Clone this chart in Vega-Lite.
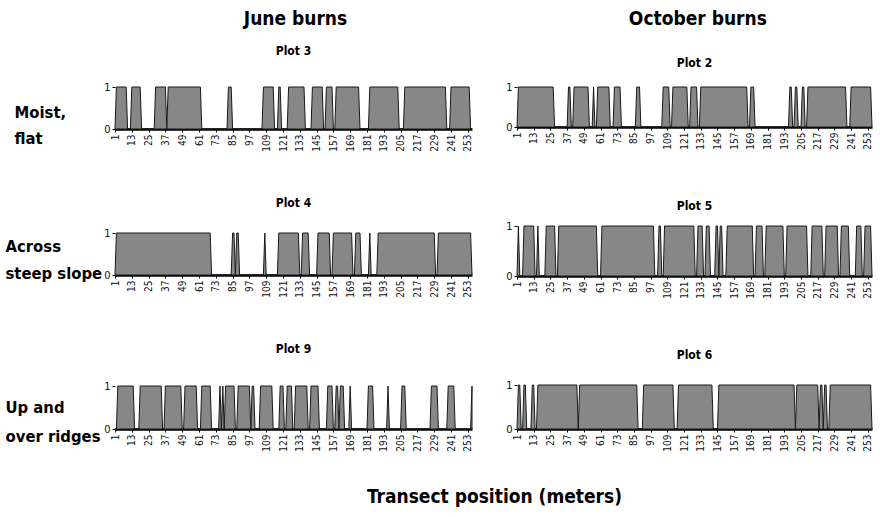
{
"$schema": "https://vega.github.io/schema/vega-lite/v6.json",
"padding": {"left": 5, "top": 10, "right": 5, "bottom": 5},
"background": "white",
"data": {"values": [
{"p":"Plot 3","x":1,"y":0},{"p":"Plot 3","x":2,"y":1},{"p":"Plot 3","x":9,"y":1},{"p":"Plot 3","x":10,"y":0},
{"p":"Plot 3","x":12,"y":0},{"p":"Plot 3","x":13,"y":1},{"p":"Plot 3","x":19,"y":1},{"p":"Plot 3","x":20,"y":0},
{"p":"Plot 3","x":29,"y":0},{"p":"Plot 3","x":30,"y":1},{"p":"Plot 3","x":37,"y":1},{"p":"Plot 3","x":38,"y":0},
{"p":"Plot 3","x":38,"y":0},{"p":"Plot 3","x":39,"y":1},{"p":"Plot 3","x":62,"y":1},{"p":"Plot 3","x":63,"y":0},
{"p":"Plot 3","x":81,"y":0},{"p":"Plot 3","x":82,"y":1},{"p":"Plot 3","x":84,"y":1},{"p":"Plot 3","x":85,"y":0},
{"p":"Plot 3","x":106,"y":0},{"p":"Plot 3","x":107,"y":1},{"p":"Plot 3","x":114,"y":1},{"p":"Plot 3","x":115,"y":0},
{"p":"Plot 3","x":117,"y":0},{"p":"Plot 3","x":118,"y":1},{"p":"Plot 3","x":119,"y":1},{"p":"Plot 3","x":120,"y":0},
{"p":"Plot 3","x":124,"y":0},{"p":"Plot 3","x":125,"y":1},{"p":"Plot 3","x":136,"y":1},{"p":"Plot 3","x":137,"y":0},
{"p":"Plot 3","x":141,"y":0},{"p":"Plot 3","x":142,"y":1},{"p":"Plot 3","x":149,"y":1},{"p":"Plot 3","x":150,"y":0},
{"p":"Plot 3","x":151,"y":0},{"p":"Plot 3","x":152,"y":1},{"p":"Plot 3","x":156,"y":1},{"p":"Plot 3","x":157,"y":0},
{"p":"Plot 3","x":158,"y":0},{"p":"Plot 3","x":159,"y":1},{"p":"Plot 3","x":175,"y":1},{"p":"Plot 3","x":176,"y":0},
{"p":"Plot 3","x":182,"y":0},{"p":"Plot 3","x":183,"y":1},{"p":"Plot 3","x":203,"y":1},{"p":"Plot 3","x":204,"y":0},
{"p":"Plot 3","x":207,"y":0},{"p":"Plot 3","x":208,"y":1},{"p":"Plot 3","x":237,"y":1},{"p":"Plot 3","x":238,"y":0},
{"p":"Plot 3","x":240,"y":0},{"p":"Plot 3","x":241,"y":1},{"p":"Plot 3","x":254,"y":1},{"p":"Plot 3","x":255,"y":0},
{"p":"Plot 3","x":256,"y":0},

{"p":"Plot 2","x":1,"y":0},{"p":"Plot 2","x":2,"y":1},{"p":"Plot 2","x":27,"y":1},{"p":"Plot 2","x":28,"y":0},
{"p":"Plot 2","x":37,"y":0},{"p":"Plot 2","x":38,"y":1},{"p":"Plot 2","x":39,"y":1},{"p":"Plot 2","x":40,"y":0},
{"p":"Plot 2","x":41,"y":0},{"p":"Plot 2","x":42,"y":1},{"p":"Plot 2","x":52,"y":1},{"p":"Plot 2","x":53,"y":0},
{"p":"Plot 2","x":55,"y":0},{"p":"Plot 2","x":56,"y":1},{"p":"Plot 2","x":57,"y":0},
{"p":"Plot 2","x":58,"y":0},{"p":"Plot 2","x":59,"y":1},{"p":"Plot 2","x":67,"y":1},{"p":"Plot 2","x":68,"y":0},
{"p":"Plot 2","x":70,"y":0},{"p":"Plot 2","x":71,"y":1},{"p":"Plot 2","x":75,"y":1},{"p":"Plot 2","x":76,"y":0},
{"p":"Plot 2","x":86,"y":0},{"p":"Plot 2","x":87,"y":1},{"p":"Plot 2","x":89,"y":1},{"p":"Plot 2","x":90,"y":0},
{"p":"Plot 2","x":105,"y":0},{"p":"Plot 2","x":106,"y":1},{"p":"Plot 2","x":110,"y":1},{"p":"Plot 2","x":111,"y":0},
{"p":"Plot 2","x":112,"y":0},{"p":"Plot 2","x":113,"y":1},{"p":"Plot 2","x":123,"y":1},{"p":"Plot 2","x":124,"y":0},
{"p":"Plot 2","x":125,"y":0},{"p":"Plot 2","x":126,"y":1},{"p":"Plot 2","x":130,"y":1},{"p":"Plot 2","x":131,"y":0},
{"p":"Plot 2","x":132,"y":0},{"p":"Plot 2","x":133,"y":1},{"p":"Plot 2","x":166,"y":1},{"p":"Plot 2","x":167,"y":0},
{"p":"Plot 2","x":168,"y":0},{"p":"Plot 2","x":169,"y":1},{"p":"Plot 2","x":171,"y":1},{"p":"Plot 2","x":172,"y":0},
{"p":"Plot 2","x":196,"y":0},{"p":"Plot 2","x":197,"y":1},{"p":"Plot 2","x":198,"y":1},{"p":"Plot 2","x":199,"y":0},
{"p":"Plot 2","x":200,"y":0},{"p":"Plot 2","x":201,"y":1},{"p":"Plot 2","x":202,"y":1},{"p":"Plot 2","x":203,"y":0},
{"p":"Plot 2","x":205,"y":0},{"p":"Plot 2","x":206,"y":1},{"p":"Plot 2","x":207,"y":1},{"p":"Plot 2","x":208,"y":0},
{"p":"Plot 2","x":209,"y":0},{"p":"Plot 2","x":210,"y":1},{"p":"Plot 2","x":237,"y":1},{"p":"Plot 2","x":238,"y":0},
{"p":"Plot 2","x":240,"y":0},{"p":"Plot 2","x":241,"y":1},{"p":"Plot 2","x":255,"y":1},{"p":"Plot 2","x":256,"y":0},

{"p":"Plot 4","x":1,"y":0},{"p":"Plot 4","x":2,"y":1},{"p":"Plot 4","x":69,"y":1},{"p":"Plot 4","x":70,"y":0},
{"p":"Plot 4","x":84,"y":0},{"p":"Plot 4","x":85,"y":1},{"p":"Plot 4","x":86,"y":1},{"p":"Plot 4","x":87,"y":0},
{"p":"Plot 4","x":87,"y":0},{"p":"Plot 4","x":88,"y":1},{"p":"Plot 4","x":89,"y":1},{"p":"Plot 4","x":90,"y":0},
{"p":"Plot 4","x":107,"y":0},{"p":"Plot 4","x":108,"y":1},{"p":"Plot 4","x":109,"y":0},
{"p":"Plot 4","x":117,"y":0},{"p":"Plot 4","x":118,"y":1},{"p":"Plot 4","x":132,"y":1},{"p":"Plot 4","x":133,"y":0},
{"p":"Plot 4","x":134,"y":0},{"p":"Plot 4","x":135,"y":1},{"p":"Plot 4","x":139,"y":1},{"p":"Plot 4","x":140,"y":0},
{"p":"Plot 4","x":145,"y":0},{"p":"Plot 4","x":146,"y":1},{"p":"Plot 4","x":154,"y":1},{"p":"Plot 4","x":155,"y":0},
{"p":"Plot 4","x":156,"y":0},{"p":"Plot 4","x":157,"y":1},{"p":"Plot 4","x":170,"y":1},{"p":"Plot 4","x":171,"y":0},
{"p":"Plot 4","x":172,"y":0},{"p":"Plot 4","x":173,"y":1},{"p":"Plot 4","x":176,"y":1},{"p":"Plot 4","x":177,"y":0},
{"p":"Plot 4","x":182,"y":0},{"p":"Plot 4","x":183,"y":1},{"p":"Plot 4","x":184,"y":0},
{"p":"Plot 4","x":188,"y":0},{"p":"Plot 4","x":189,"y":1},{"p":"Plot 4","x":229,"y":1},{"p":"Plot 4","x":230,"y":0},
{"p":"Plot 4","x":231,"y":0},{"p":"Plot 4","x":232,"y":1},{"p":"Plot 4","x":255,"y":1},{"p":"Plot 4","x":256,"y":0},

{"p":"Plot 5","x":1,"y":0},{"p":"Plot 5","x":2,"y":1},{"p":"Plot 5","x":3,"y":0},
{"p":"Plot 5","x":5,"y":0},{"p":"Plot 5","x":6,"y":1},{"p":"Plot 5","x":13,"y":1},{"p":"Plot 5","x":14,"y":0},
{"p":"Plot 5","x":15,"y":0},{"p":"Plot 5","x":16,"y":1},{"p":"Plot 5","x":17,"y":0},
{"p":"Plot 5","x":21,"y":0},{"p":"Plot 5","x":22,"y":1},{"p":"Plot 5","x":28,"y":1},{"p":"Plot 5","x":29,"y":0},
{"p":"Plot 5","x":30,"y":0},{"p":"Plot 5","x":31,"y":1},{"p":"Plot 5","x":58,"y":1},{"p":"Plot 5","x":59,"y":0},
{"p":"Plot 5","x":61,"y":0},{"p":"Plot 5","x":62,"y":1},{"p":"Plot 5","x":99,"y":1},{"p":"Plot 5","x":100,"y":0},
{"p":"Plot 5","x":102,"y":0},{"p":"Plot 5","x":103,"y":1},{"p":"Plot 5","x":104,"y":1},{"p":"Plot 5","x":105,"y":0},
{"p":"Plot 5","x":106,"y":0},{"p":"Plot 5","x":107,"y":1},{"p":"Plot 5","x":128,"y":1},{"p":"Plot 5","x":129,"y":0},
{"p":"Plot 5","x":130,"y":0},{"p":"Plot 5","x":131,"y":1},{"p":"Plot 5","x":134,"y":1},{"p":"Plot 5","x":135,"y":0},
{"p":"Plot 5","x":136,"y":0},{"p":"Plot 5","x":137,"y":1},{"p":"Plot 5","x":139,"y":1},{"p":"Plot 5","x":140,"y":0},
{"p":"Plot 5","x":143,"y":0},{"p":"Plot 5","x":144,"y":1},{"p":"Plot 5","x":145,"y":1},{"p":"Plot 5","x":146,"y":0},
{"p":"Plot 5","x":146,"y":0},{"p":"Plot 5","x":147,"y":1},{"p":"Plot 5","x":148,"y":1},{"p":"Plot 5","x":149,"y":0},
{"p":"Plot 5","x":151,"y":0},{"p":"Plot 5","x":152,"y":1},{"p":"Plot 5","x":170,"y":1},{"p":"Plot 5","x":171,"y":0},
{"p":"Plot 5","x":172,"y":0},{"p":"Plot 5","x":173,"y":1},{"p":"Plot 5","x":177,"y":1},{"p":"Plot 5","x":178,"y":0},
{"p":"Plot 5","x":179,"y":0},{"p":"Plot 5","x":180,"y":1},{"p":"Plot 5","x":192,"y":1},{"p":"Plot 5","x":193,"y":0},
{"p":"Plot 5","x":194,"y":0},{"p":"Plot 5","x":195,"y":1},{"p":"Plot 5","x":209,"y":1},{"p":"Plot 5","x":210,"y":0},
{"p":"Plot 5","x":212,"y":0},{"p":"Plot 5","x":213,"y":1},{"p":"Plot 5","x":220,"y":1},{"p":"Plot 5","x":221,"y":0},
{"p":"Plot 5","x":222,"y":0},{"p":"Plot 5","x":223,"y":1},{"p":"Plot 5","x":231,"y":1},{"p":"Plot 5","x":232,"y":0},
{"p":"Plot 5","x":233,"y":0},{"p":"Plot 5","x":234,"y":1},{"p":"Plot 5","x":239,"y":1},{"p":"Plot 5","x":240,"y":0},
{"p":"Plot 5","x":244,"y":0},{"p":"Plot 5","x":245,"y":1},{"p":"Plot 5","x":248,"y":1},{"p":"Plot 5","x":249,"y":0},
{"p":"Plot 5","x":250,"y":0},{"p":"Plot 5","x":251,"y":1},{"p":"Plot 5","x":255,"y":1},{"p":"Plot 5","x":256,"y":0},

{"p":"Plot 9","x":1,"y":0},{"p":"Plot 9","x":2,"y":0},{"p":"Plot 9","x":3,"y":1},{"p":"Plot 9","x":14,"y":1},{"p":"Plot 9","x":15,"y":0},
{"p":"Plot 9","x":18,"y":0},{"p":"Plot 9","x":19,"y":1},{"p":"Plot 9","x":34,"y":1},{"p":"Plot 9","x":35,"y":0},
{"p":"Plot 9","x":36,"y":0},{"p":"Plot 9","x":37,"y":1},{"p":"Plot 9","x":48,"y":1},{"p":"Plot 9","x":49,"y":0},
{"p":"Plot 9","x":50,"y":0},{"p":"Plot 9","x":51,"y":1},{"p":"Plot 9","x":59,"y":1},{"p":"Plot 9","x":60,"y":0},
{"p":"Plot 9","x":62,"y":0},{"p":"Plot 9","x":63,"y":1},{"p":"Plot 9","x":69,"y":1},{"p":"Plot 9","x":70,"y":0},
{"p":"Plot 9","x":75,"y":0},{"p":"Plot 9","x":76,"y":1},{"p":"Plot 9","x":77,"y":0},
{"p":"Plot 9","x":77,"y":0},{"p":"Plot 9","x":78,"y":1},{"p":"Plot 9","x":79,"y":0},
{"p":"Plot 9","x":79,"y":0},{"p":"Plot 9","x":80,"y":1},{"p":"Plot 9","x":86,"y":1},{"p":"Plot 9","x":87,"y":0},
{"p":"Plot 9","x":88,"y":0},{"p":"Plot 9","x":89,"y":1},{"p":"Plot 9","x":97,"y":1},{"p":"Plot 9","x":98,"y":0},
{"p":"Plot 9","x":98,"y":0},{"p":"Plot 9","x":99,"y":1},{"p":"Plot 9","x":100,"y":1},{"p":"Plot 9","x":101,"y":0},
{"p":"Plot 9","x":104,"y":0},{"p":"Plot 9","x":105,"y":1},{"p":"Plot 9","x":113,"y":1},{"p":"Plot 9","x":114,"y":0},
{"p":"Plot 9","x":118,"y":0},{"p":"Plot 9","x":119,"y":1},{"p":"Plot 9","x":121,"y":1},{"p":"Plot 9","x":122,"y":0},
{"p":"Plot 9","x":123,"y":0},{"p":"Plot 9","x":124,"y":1},{"p":"Plot 9","x":127,"y":1},{"p":"Plot 9","x":128,"y":0},
{"p":"Plot 9","x":129,"y":0},{"p":"Plot 9","x":130,"y":1},{"p":"Plot 9","x":138,"y":1},{"p":"Plot 9","x":139,"y":0},
{"p":"Plot 9","x":140,"y":0},{"p":"Plot 9","x":141,"y":1},{"p":"Plot 9","x":146,"y":1},{"p":"Plot 9","x":147,"y":0},
{"p":"Plot 9","x":152,"y":0},{"p":"Plot 9","x":153,"y":1},{"p":"Plot 9","x":156,"y":1},{"p":"Plot 9","x":157,"y":0},
{"p":"Plot 9","x":158,"y":0},{"p":"Plot 9","x":159,"y":1},{"p":"Plot 9","x":160,"y":1},{"p":"Plot 9","x":161,"y":0},
{"p":"Plot 9","x":161,"y":0},{"p":"Plot 9","x":162,"y":1},{"p":"Plot 9","x":164,"y":1},{"p":"Plot 9","x":165,"y":0},
{"p":"Plot 9","x":168,"y":0},{"p":"Plot 9","x":169,"y":1},{"p":"Plot 9","x":170,"y":0},
{"p":"Plot 9","x":181,"y":0},{"p":"Plot 9","x":182,"y":1},{"p":"Plot 9","x":185,"y":1},{"p":"Plot 9","x":186,"y":0},
{"p":"Plot 9","x":195,"y":0},{"p":"Plot 9","x":196,"y":1},{"p":"Plot 9","x":197,"y":0},
{"p":"Plot 9","x":205,"y":0},{"p":"Plot 9","x":206,"y":1},{"p":"Plot 9","x":208,"y":1},{"p":"Plot 9","x":209,"y":0},
{"p":"Plot 9","x":226,"y":0},{"p":"Plot 9","x":227,"y":1},{"p":"Plot 9","x":231,"y":1},{"p":"Plot 9","x":232,"y":0},
{"p":"Plot 9","x":238,"y":0},{"p":"Plot 9","x":239,"y":1},{"p":"Plot 9","x":243,"y":1},{"p":"Plot 9","x":244,"y":0},
{"p":"Plot 9","x":255,"y":0},{"p":"Plot 9","x":256,"y":1},

{"p":"Plot 6","x":1,"y":0},{"p":"Plot 6","x":2,"y":1},{"p":"Plot 6","x":3,"y":1},{"p":"Plot 6","x":4,"y":0},
{"p":"Plot 6","x":5,"y":0},{"p":"Plot 6","x":6,"y":1},{"p":"Plot 6","x":7,"y":1},{"p":"Plot 6","x":8,"y":0},
{"p":"Plot 6","x":11,"y":0},{"p":"Plot 6","x":12,"y":1},{"p":"Plot 6","x":13,"y":1},{"p":"Plot 6","x":14,"y":0},
{"p":"Plot 6","x":15,"y":0},{"p":"Plot 6","x":16,"y":1},{"p":"Plot 6","x":44,"y":1},{"p":"Plot 6","x":45,"y":0},
{"p":"Plot 6","x":45,"y":0},{"p":"Plot 6","x":46,"y":1},{"p":"Plot 6","x":87,"y":1},{"p":"Plot 6","x":88,"y":0},
{"p":"Plot 6","x":91,"y":0},{"p":"Plot 6","x":92,"y":1},{"p":"Plot 6","x":113,"y":1},{"p":"Plot 6","x":114,"y":0},
{"p":"Plot 6","x":116,"y":0},{"p":"Plot 6","x":117,"y":1},{"p":"Plot 6","x":141,"y":1},{"p":"Plot 6","x":142,"y":0},
{"p":"Plot 6","x":145,"y":0},{"p":"Plot 6","x":146,"y":1},{"p":"Plot 6","x":200,"y":1},{"p":"Plot 6","x":201,"y":0},
{"p":"Plot 6","x":201,"y":0},{"p":"Plot 6","x":202,"y":1},{"p":"Plot 6","x":217,"y":1},{"p":"Plot 6","x":218,"y":0},
{"p":"Plot 6","x":218,"y":0},{"p":"Plot 6","x":219,"y":1},{"p":"Plot 6","x":220,"y":1},{"p":"Plot 6","x":221,"y":0},
{"p":"Plot 6","x":221,"y":0},{"p":"Plot 6","x":222,"y":1},{"p":"Plot 6","x":223,"y":1},{"p":"Plot 6","x":224,"y":0},
{"p":"Plot 6","x":225,"y":0},{"p":"Plot 6","x":226,"y":1},{"p":"Plot 6","x":255,"y":1},{"p":"Plot 6","x":256,"y":0}
]},
"title": {"text": "Transect position (meters)", "orient": "bottom", "anchor": "middle", "fontSize": 19, "fontWeight": "bold", "offset": 37, "dx": 55},
"spacing": 31,
"hconcat": [
 {
  "title": {"text": "June burns", "fontSize": 19, "offset": 16, "dx": 56},
  "spacing": 45,
  "vconcat": [
   {"title": {"text": "Plot 3", "offset": 23}, "width": 357, "height": 42,
    "transform": [{"filter": "datum.p == 'Plot 3'"}],
    "mark": {"type": "area", "fill": "#878787", "stroke": "#1a1a1a", "strokeWidth": 1},
    "encoding": {
     "x": {"field": "x", "type": "quantitative", "scale": {"domain": [1, 256], "nice": false, "zero": false}, "axis": {"values": [1,13,25,37,49,61,73,85,97,109,121,133,145,157,169,181,193,205,217,229,241,253], "title": null}},
     "y": {"field": "y", "type": "quantitative", "scale": {"domain": [0, 1]}, "axis": {"values": [0, 1], "format": "d", "title": ["Moist,", "flat"], "titleX": -101, "titleY": 17}}
    }},
   {"title": {"text": "Plot 4", "offset": 17}, "width": 357, "height": 42,
    "transform": [{"filter": "datum.p == 'Plot 4'"}],
    "mark": {"type": "area", "fill": "#878787", "stroke": "#1a1a1a", "strokeWidth": 1},
    "encoding": {
     "x": {"field": "x", "type": "quantitative", "scale": {"domain": [1, 256], "nice": false, "zero": false}, "axis": {"values": [1,13,25,37,49,61,73,85,97,109,121,133,145,157,169,181,193,205,217,229,241,253], "title": null}},
     "y": {"field": "y", "type": "quantitative", "scale": {"domain": [0, 1]}, "axis": {"values": [0, 1], "format": "d", "title": ["Across", "steep slope"], "titleX": -110, "titleY": 5, "titleLineHeight": 27}}
    }},
   {"title": {"text": "Plot 9", "offset": 24}, "width": 357, "height": 43,
    "transform": [{"filter": "datum.p == 'Plot 9'"}],
    "mark": {"type": "area", "fill": "#878787", "stroke": "#1a1a1a", "strokeWidth": 1},
    "encoding": {
     "x": {"field": "x", "type": "quantitative", "scale": {"domain": [1, 256], "nice": false, "zero": false}, "axis": {"values": [1,13,25,37,49,61,73,85,97,109,121,133,145,157,169,181,193,205,217,229,241,253], "title": null}},
     "y": {"field": "y", "type": "quantitative", "scale": {"domain": [0, 1]}, "axis": {"values": [0, 1], "format": "d", "title": ["Up and", "over ridges"], "titleX": -110, "titleY": 13, "titleLineHeight": 29}}
    }}
  ]
 },
 {
  "title": {"text": "October burns", "fontSize": 19, "offset": 28, "dx": 8},
  "spacing": 50,
  "vconcat": [
   {"title": {"text": "Plot 2", "offset": 11}, "width": 355, "height": 40,
    "transform": [{"filter": "datum.p == 'Plot 2'"}],
    "mark": {"type": "area", "fill": "#878787", "stroke": "#1a1a1a", "strokeWidth": 1},
    "encoding": {
     "x": {"field": "x", "type": "quantitative", "scale": {"domain": [1, 256], "nice": false, "zero": false}, "axis": {"values": [1,13,25,37,49,61,73,85,97,109,121,133,145,157,169,181,193,205,217,229,241,253], "title": null}},
     "y": {"field": "y", "type": "quantitative", "scale": {"domain": [0, 1]}, "axis": {"values": [0, 1], "format": "d", "title": null}}
    }},
   {"title": {"text": "Plot 5", "offset": 7}, "width": 355, "height": 50,
    "transform": [{"filter": "datum.p == 'Plot 5'"}],
    "mark": {"type": "area", "fill": "#878787", "stroke": "#1a1a1a", "strokeWidth": 1},
    "encoding": {
     "x": {"field": "x", "type": "quantitative", "scale": {"domain": [1, 256], "nice": false, "zero": false}, "axis": {"values": [1,13,25,37,49,61,73,85,97,109,121,133,145,157,169,181,193,205,217,229,241,253], "title": null}},
     "y": {"field": "y", "type": "quantitative", "scale": {"domain": [0, 1]}, "axis": {"values": [0, 1], "format": "d", "title": null}}
    }},
   {"title": {"text": "Plot 6", "offset": 17}, "width": 355, "height": 44,
    "transform": [{"filter": "datum.p == 'Plot 6'"}],
    "mark": {"type": "area", "fill": "#878787", "stroke": "#1a1a1a", "strokeWidth": 1},
    "encoding": {
     "x": {"field": "x", "type": "quantitative", "scale": {"domain": [1, 256], "nice": false, "zero": false}, "axis": {"values": [1,13,25,37,49,61,73,85,97,109,121,133,145,157,169,181,193,205,217,229,241,253], "title": null}},
     "y": {"field": "y", "type": "quantitative", "scale": {"domain": [0, 1]}, "axis": {"values": [0, 1], "format": "d", "title": null}}
    }}
  ]
 }
],
"config": {
 "font": "Liberation Sans Narrow, DejaVu Sans Condensed, Arial Narrow, sans-serif",
 "view": {"stroke": null},
 "title": {"fontSize": 12, "fontWeight": "bold", "color": "#000", "anchor": "middle"},
 "axis": {"grid": false, "domainColor": "#000", "tickColor": "#000", "labelColor": "#111", "labelFontSize": 10, "tickSize": 3, "labelPadding": 2},
 "axisX": {"domainWidth": 2.5, "labelAngle": 270},
 "axisY": {"domain": false, "labelFontSize": 11, "titleAngle": 0, "titleAlign": "left", "titleBaseline": "top", "titleFontSize": 16.5, "titleFontWeight": "bold", "titleColor": "#000", "titleLineHeight": 26}
}
}
